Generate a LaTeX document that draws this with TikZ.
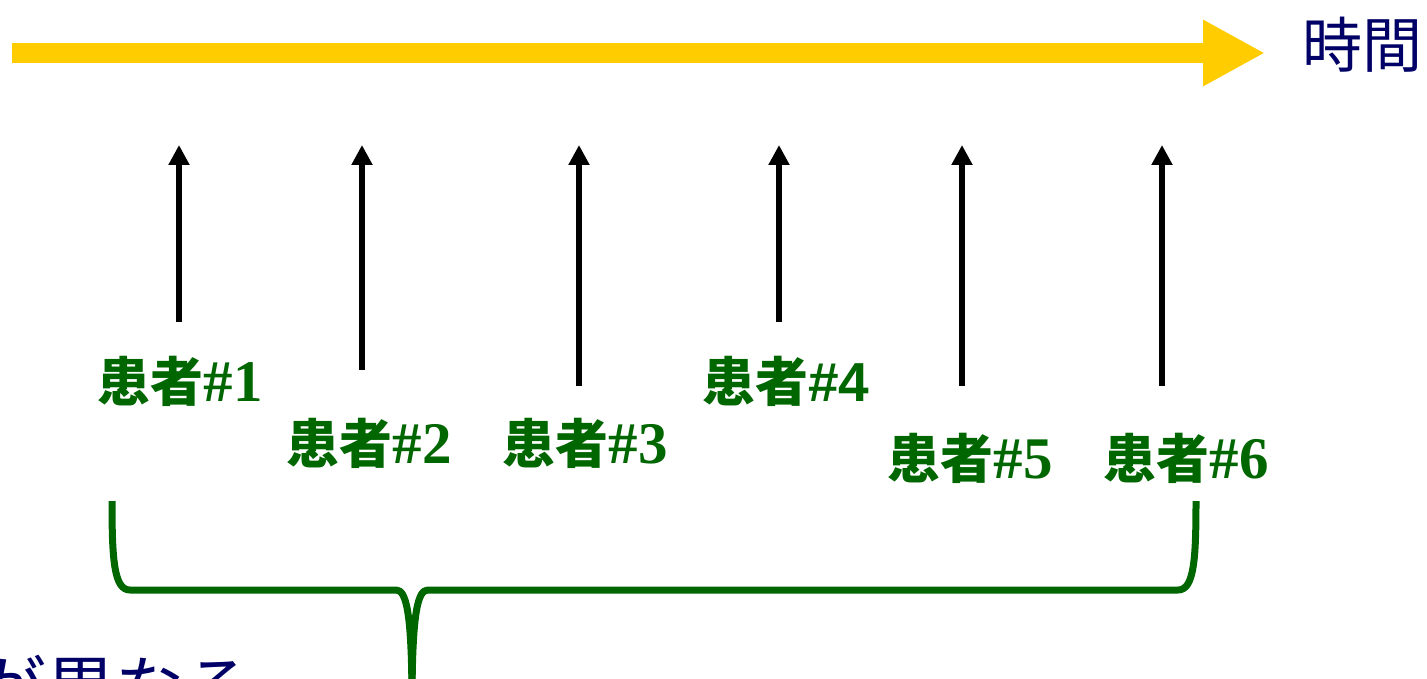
\documentclass[tikz,border=0pt]{standalone}
\usepackage{fontspec}
\usetikzlibrary{arrows.meta}
\newfontfamily\jpfont{Noto Sans CJK JP}
\newfontfamily\tmsfont{Liberation Serif}
\newfontfamily\arlfont{Liberation Sans}
\definecolor{timeyellow}{RGB}{255,204,0}
\definecolor{ptgreen}{RGB}{0,102,0}
\definecolor{navytext}{RGB}{0,0,102}
\newcommand{\ptjp}{\jpfont\fontsize{53}{58}\selectfont\bfseries 患者}
\newcommand{\ptnum}[1]{\tmsfont\fontsize{59}{64}\selectfont\bfseries\#{#1}}
\newcommand{\ptnumsans}[1]{\arlfont\fontsize{55}{60}\selectfont\bfseries\#{#1}}
\tikzset{
  timearrow/.style={line width=20pt, color=timeyellow, -{Triangle[length=62pt,width=62pt]}},
  ptarrow/.style={line width=6pt, black, -{Triangle[length=20pt,width=20pt]}},
  ptlabel/.style={text=ptgreen, inner sep=0pt},
  bracestyle/.style={line width=7pt, ptgreen, line join=round},
  navylabel/.style={text=navytext, inner sep=0pt, font=\jpfont\fontsize{60}{66}\selectfont},
  bottomlabel/.style={text=navytext, inner sep=0pt, font=\jpfont\fontsize{69}{75}\selectfont}
}
\begin{document}
\begin{tikzpicture}[x=1pt,y=-1pt]
\useasboundingbox (0,0) rectangle (1427,679);
\clip (0,0) rectangle (1427,679);
% time axis
\coordinate (tstart) at (12,53);
\coordinate (tend) at (1265,53);
\draw[timearrow] (tstart) -- (tend);
\node[navylabel, anchor=west] (jikan) at (1302,45) {時間};
% patient arrows
\foreach \i/\x/\yb in {1/179/322, 2/362/370, 3/579/386, 4/779/322, 5/962/386, 6/1162/386}{
  \coordinate (b\i) at (\x,\yb);
  \coordinate (t\i) at (\x,145);
  \draw[ptarrow] (b\i) -- (t\i);
}
% labels
\node[ptlabel] (p1) at (180,381) {{\ptjp}{\ptnum{1}}};
\node[ptlabel] (p2) at (369,443) {{\ptjp}{\ptnum{2}}};
\node[ptlabel] (p3) at (585,443) {{\ptjp}{\ptnum{3}}};
\node[ptlabel] (p4) at (786,381) {{\ptjp}{\ptnumsans{4}}};
\node[ptlabel] (p5) at (970,458) {{\ptjp}{\ptnum{5}}};
\node[ptlabel] (p6) at (1186,458) {{\ptjp}{\ptnum{6}}};
% brace
\coordinate (bl) at (112,501);
\coordinate (br) at (1196,501);
\coordinate (btip) at (412,705);
\draw[bracestyle] (bl) .. controls (112,560) and (114,590) .. (130,590) -- (396,590)
   .. controls (406,590) and (412,610) .. (btip);
\draw[bracestyle] (br) .. controls (1196,560) and (1194,590) .. (1178,590) -- (428,590)
   .. controls (418,590) and (412,610) .. (btip);
% bottom text (cut off by the picture edge, as in the reference)
\node[bottomlabel, anchor=base east] (diff) at (254,713) {が異なる};
\end{tikzpicture}
\end{document}
